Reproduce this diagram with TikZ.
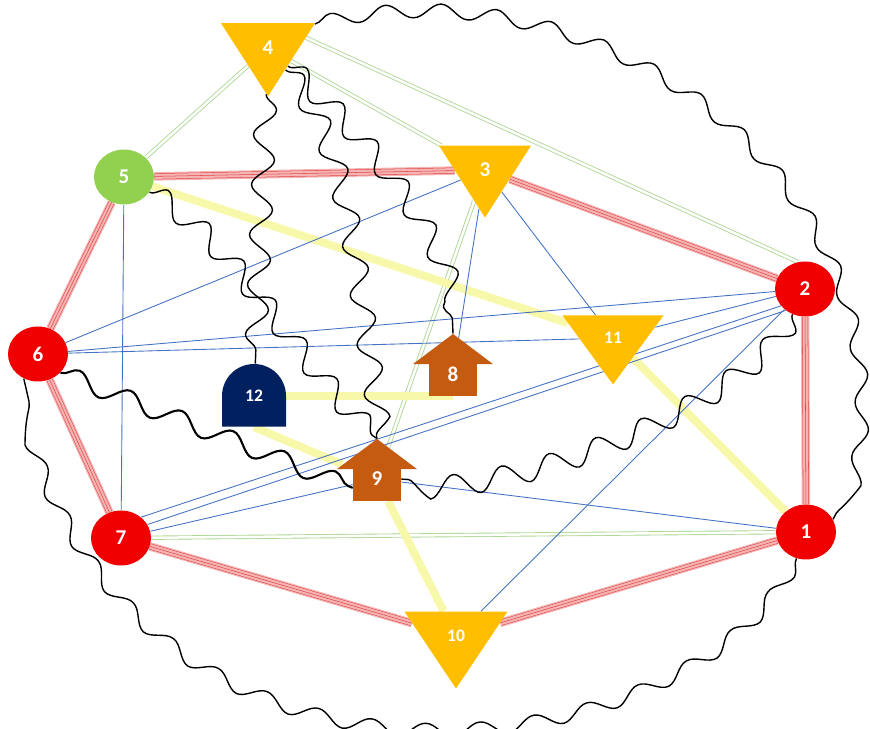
\documentclass[tikz,border=0pt]{standalone}
\usepackage{fontspec}
\setmainfont{Carlito}
\usetikzlibrary{shapes.geometric,shapes.arrows,shapes.misc,decorations.pathmorphing,backgrounds}
\definecolor{mygold}{RGB}{255,190,0}
\definecolor{myred}{RGB}{240,0,0}
\definecolor{mygreen}{RGB}{146,208,80}
\definecolor{mybrown}{RGB}{197,90,17}
\definecolor{mynavy}{RGB}{0,32,96}
\definecolor{mypink}{RGB}{245,180,180}
\definecolor{myredline}{RGB}{225,70,70}
\definecolor{mylightgreen}{RGB}{175,215,150}
\definecolor{myyellow}{RGB}{248,248,170}
\definecolor{myblue}{RGB}{68,114,196}
\newcommand{\labelfont}{\bfseries\fontsize{12}{12}\selectfont}
\newcommand{\smallfont}{\bfseries\fontsize{10}{10}\selectfont}
\tikzset{
    common/.style={inner sep=0pt, text=white, font=\labelfont},
    vertex/.style={common, ellipse, fill=myred, minimum width=12mm, minimum height=11mm},
    tri/.style={common, isosceles triangle, isosceles triangle stretches, shape border rotate=-90, fill=mygold, minimum width=18.8mm, minimum height=14.6mm},
    upbox/.style={common, inner sep=2.6mm, single arrow, shape border rotate=90, fill=mybrown, single arrow tip angle=106, minimum height=12.4mm, minimum width=16mm},
    archbox/.style={common, font=\smallfont, rounded rectangle, rounded rectangle west arc=none, rotate=90, fill=mynavy, minimum width=11.6mm, minimum height=12.8mm},
    ring/.style={draw=myredline, line width=0.3pt, double=mypink, double distance=1mm, preaction={draw=mypink, line width=1.7mm}, postaction={draw=myredline, line width=0.3pt}},
    twin/.style={draw=mylightgreen, line width=0.5pt, double=white, double distance=0.5mm},
    band/.style={draw=myyellow, line width=1.6mm},
    link/.style={draw=myblue, line width=0.5pt},
    outerwave/.style={draw, line width=0.8pt, decorate, decoration={snake, segment length=11mm, amplitude=1.4mm}},
    innerwave/.style={draw, line width=0.8pt, decorate, decoration={snake, segment length=10mm, amplitude=2.2mm}},
    stepwave/.style={draw, line width=1.2pt, decorate, decoration={snake, segment length=11mm, amplitude=1.8mm}}
}

\begin{document}
\begin{tikzpicture}[x=0.2mm, y=-0.2mm]
    \useasboundingbox (0,0) rectangle (870,729);
    \node[tri] (n4) at (268,48) {4};
    \node[tri, minimum width=18.4mm, minimum height=14.4mm] (n3) at (485,170) {3};
    \node[tri, font=\smallfont, minimum width=20.2mm, minimum height=13.8mm] (n11) at (613,338) {11};
    \node[tri, font=\smallfont, minimum width=20.6mm, minimum height=15.4mm] (n10) at (456,636) {10};
    \node[vertex, fill=mygreen] (n5) at (124,177) {5};
    \node[vertex] (n6) at (38,354) {6};
    \node[vertex] (n2) at (805,289) {2};
    \node[vertex] (n1) at (806,532) {1};
    \node[vertex] (n7) at (121,538) {7};
    \node[archbox] (n12) at (254,396) {\rotatebox{-90}{12}};
    \node[upbox] (n8) at (453,374) {8};
    \node[upbox] (n9) at (377,479) {9};

    \begin{pgfonlayer}{background}
        \foreach \a/\b in {5/3,3/2,2/1,1/10,10/7,7/6,6/5}
            \draw[ring] (n\a) -- (n\b);
        \foreach \a/\b in {4/5,4/3,3/9,7/1}
            \draw[twin] (n\a) -- (n\b);
        \draw[twin] (n4.15) -- (n2.105);
        \foreach \a/\b in {5/11,11/1,9/10}
            \draw[band] (n\a) -- (n\b);
        \draw[band] (n12) -- (n12 -| n8);
        \draw[band] (n12.west) -- (n9);
        \foreach \a/\b in {5/7,6/3,6/2,6/11,3/11,3/8,2/11,2/10,7/9,9/1}
            \draw[link] (n\a) -- (n\b);
        \draw[link] (n7.46) -- (n2.215);
        \draw[link] (n7.27) -- (n2.228);
        \draw[outerwave] (n4.27) .. controls (600,-40) and (925,200) .. (n1.25);
        \draw[outerwave] (n1.250) .. controls (690,760) and (125,840) .. (n6.240);
        \draw[innerwave] (n4) -- (n12);
        \draw[innerwave] (n4) .. controls (380,150) and (450,250) .. (n8.tip);
        \draw[innerwave] (n4) .. controls (350,150) and (350,300) .. (n9.tip);
        \draw[innerwave] (n5) .. controls (230,240) and (300,380) .. (n9.tip);
        \draw[innerwave] (n2) .. controls (760,380) and (560,480) .. (n9);
        \draw[stepwave] (n6.320) -- (n9.200);
    \end{pgfonlayer}
\end{tikzpicture}
\end{document}
